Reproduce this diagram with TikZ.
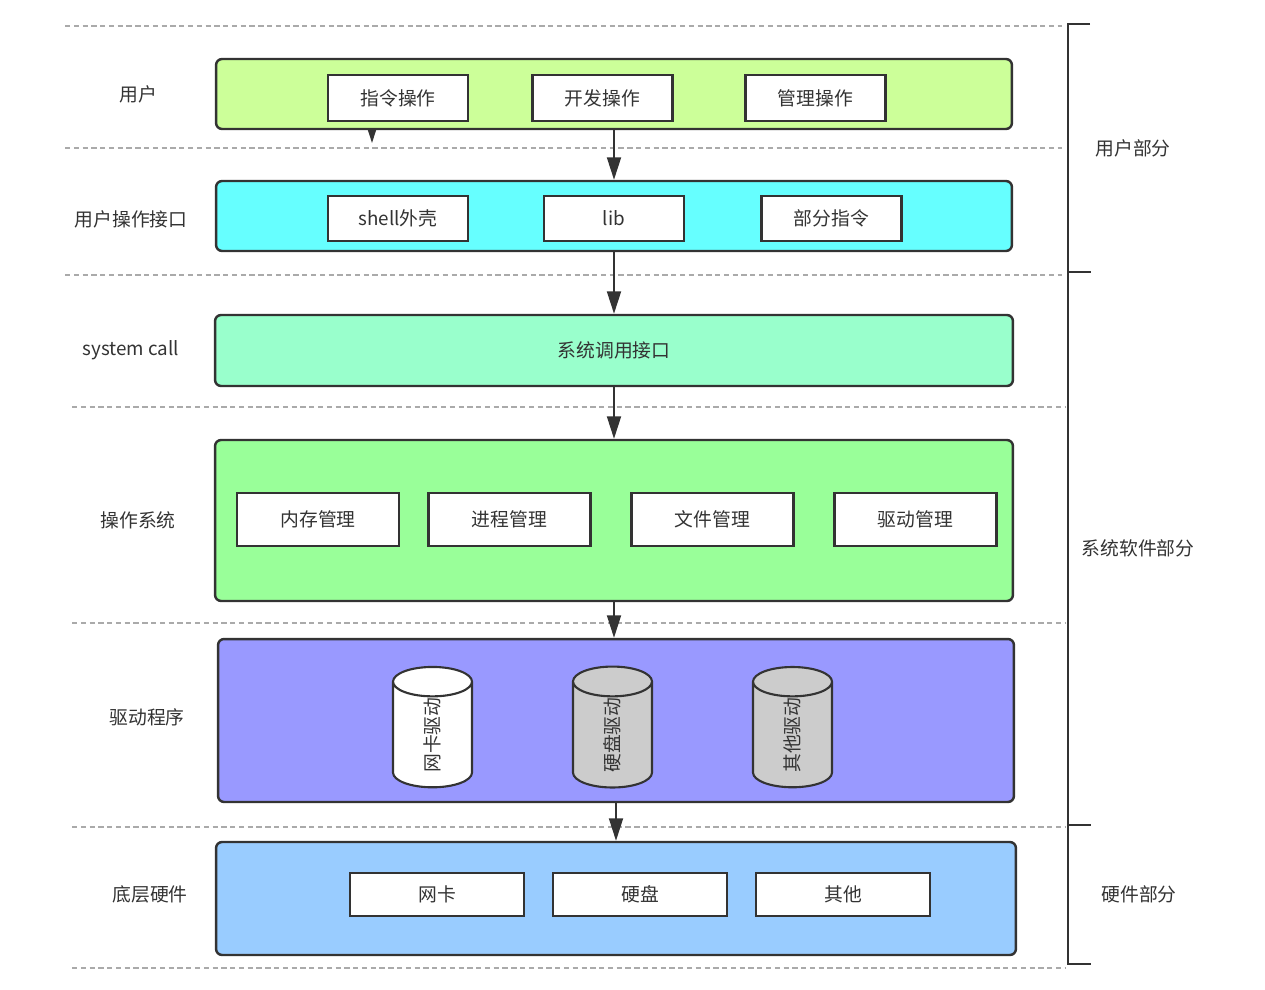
\documentclass[tikz,border=0pt]{standalone}
\usepackage{fontspec}
\setmainfont{Noto Sans CJK SC}
\usetikzlibrary{shapes.geometric, arrows.meta}
\definecolor{edgegray}{HTML}{333333}
\definecolor{txtgray}{HTML}{333333}
\definecolor{sepgray}{HTML}{AAAAAA}
\definecolor{userfill}{HTML}{CCFF99}
\definecolor{apifill}{HTML}{66FFFF}
\definecolor{callfill}{HTML}{99FFCC}
\definecolor{osfill}{HTML}{99FF99}
\definecolor{drvfill}{HTML}{9999FF}
\definecolor{hwfill}{HTML}{99CCFF}
\definecolor{drumgray}{HTML}{CCCCCC}

\begin{document}
\begin{tikzpicture}[x=0.02cm, y=-0.02cm,
        every node/.style={font=\fontsize{10.7}{12}\selectfont, text=txtgray},
        layer/.style={draw=edgegray, line width=1.4pt, rounded corners=0.12cm, inner sep=0pt},
        opbox/.style={draw=edgegray, line width=1.2pt, fill=white, inner sep=0pt},
        drum/.style={cylinder, draw=edgegray, line width=1.2pt, rotate=90, aspect=1.7,
            minimum width=1.58cm, minimum height=2.36cm, inner sep=0pt},
        flow/.style={draw=edgegray, line width=1.1pt, -{Triangle[length=0.45cm, width=0.28cm]}},
        sep/.style={draw=sepgray, line width=0.6pt, dash pattern=on 3pt off 2pt},
        bracket/.style={draw=edgegray, line width=1.1pt}]
    \useasboundingbox (0,0) rectangle (1265,990);

    % Dashed separators
    \draw[sep] (65,26) -- (1062,26);
    \draw[sep] (65,148) -- (1062,148);
    \draw[sep] (65,275) -- (1062,275);
    \draw[sep] (72,407) -- (1065,407);
    \draw[sep] (72,623) -- (1065,623);
    \draw[sep] (72,827) -- (1065,827);
    \draw[sep] (72,968) -- (1065,968);

    % Small arrow below the first box
    \coordinate (cmdroot) at (372,110);
    \coordinate (cmdtip) at (372,143);
    \draw[flow] (cmdroot) -- (cmdtip);

    % User layer
    \node[layer, fill=userfill, minimum width=15.92cm, minimum height=1.4cm] (user) at (614,94) {};
    \node[opbox, minimum width=2.8cm, minimum height=0.92cm] (cmdop) at (398,98) {指令操作};
    \node[opbox, minimum width=2.8cm, minimum height=0.92cm] (devop) at (602.5,98) {开发操作};
    \node[opbox, minimum width=2.8cm, minimum height=0.92cm] (mgmtop) at (815.5,98) {管理操作};
    \node (userlbl) at (138,94) {用户};

    % User interface layer
    \node[layer, fill=apifill, minimum width=15.92cm, minimum height=1.4cm] (uapi) at (614,216) {};
    \node[opbox, minimum width=2.8cm, minimum height=0.9cm] (shell) at (398,218.5) {shell外壳};
    \node[opbox, minimum width=2.8cm, minimum height=0.9cm] (lib) at (614,218.5) {lib};
    \node[opbox, minimum width=2.8cm, minimum height=0.9cm] (partcmd) at (831.5,218.5) {部分指令};
    \node (uapilbl) at (131,219) {用户操作接口};

    % System call layer
    \node[layer, fill=callfill, minimum width=15.96cm, minimum height=1.42cm] (syscall) at (614,350.5) {系统调用接口};
    \node (syscalllbl) at (131,350) {system call};

    % Operating system layer
    \node[layer, fill=osfill, minimum width=15.96cm, minimum height=3.22cm] (os) at (614,520.5) {};
    \node[opbox, minimum width=3.24cm, minimum height=1.06cm] (mem) at (318,519.5) {内存管理};
    \node[opbox, minimum width=3.24cm, minimum height=1.06cm] (proc) at (509.5,519.5) {进程管理};
    \node[opbox, minimum width=3.24cm, minimum height=1.06cm] (file) at (712.5,519.5) {文件管理};
    \node[opbox, minimum width=3.24cm, minimum height=1.06cm] (drvmgmt) at (915.5,519.5) {驱动管理};
    \node (oslbl) at (138,520) {操作系统};

    % Driver layer
    \node[layer, fill=drvfill, minimum width=15.92cm, minimum height=3.26cm] (driver) at (616,720.5) {};
    \node[drum, fill=white] (nicdrv) at (432.5,735) {网卡驱动};
    \node[drum, fill=drumgray] (diskdrv) at (612.5,735) {硬盘驱动};
    \node[drum, fill=drumgray] (otherdrv) at (792.5,735) {其他驱动};
    \node (driverlbl) at (147,717) {驱动程序};

    % Hardware layer
    \node[layer, fill=hwfill, minimum width=16cm, minimum height=2.26cm] (hw) at (616,898.5) {};
    \node[opbox, minimum width=3.48cm, minimum height=0.86cm] (nic) at (437,894.5) {网卡};
    \node[opbox, minimum width=3.48cm, minimum height=0.86cm] (disk) at (640,894.5) {硬盘};
    \node[opbox, minimum width=3.48cm, minimum height=0.86cm] (other) at (843,894.5) {其他};
    \node (hwlbl) at (150,894) {底层硬件};

    % Arrows between layers
    \draw[flow] (user.south) -- (uapi.north);
    \draw[flow] (uapi.south) -- (syscall.north);
    \draw[flow] (syscall.south) -- (os.north);
    \draw[flow] (os.south) -- (os.south |- driver.north);
    \draw[flow] (driver.south) -- (hw.north);

    % Right bracket
    \coordinate (brtop) at (1068,24);
    \coordinate (brbot) at (1068,964);
    \draw[bracket] (1090,24) -- (brtop) -- (brbot) -- (1091,964);
    \draw[bracket] (1068,272) -- (1091,272);
    \draw[bracket] (1068,825) -- (1091,825);
    \node (userpart) at (1133,148) {用户部分};
    \node (syspart) at (1138,548) {系统软件部分};
    \node (hwpart) at (1139,894) {硬件部分};
\end{tikzpicture}
\end{document}
